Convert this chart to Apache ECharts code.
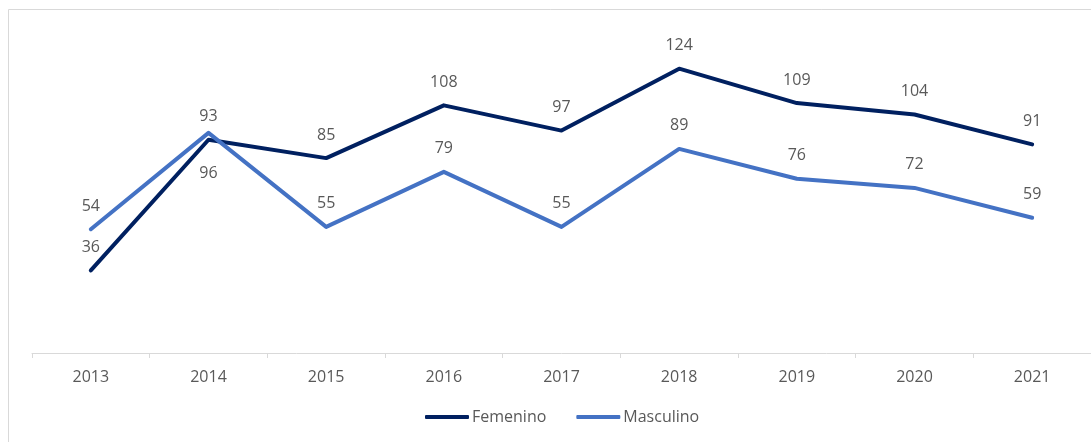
<!DOCTYPE html>
<html>
<head>
<meta charset="utf-8">
<script src="https://cdn.jsdelivr.net/npm/echarts@6/dist/echarts.min.js"></script>
<style>
  html, body { margin: 0; padding: 0; background: #fff; }
  #chart { width: 1091px; height: 442px; }
</style>
</head>
<body>
<div id="chart"></div>
<script>
// Chart data
const years = ['2013', '2014', '2015', '2016', '2017', '2018', '2019', '2020', '2021'];
const femenino = [36, 93, 85, 108, 97, 124, 109, 104, 91];
const masculino = [54, 96, 55, 79, 55, 89, 76, 72, 59];

const FONT = 'Open Sans';
const TEXT = '#595959';

// Masculino 2014 label sits under the line in the source
function mascData() {
  return masculino.map((v, i) => {
    if (i === 1) return { value: v, label: { position: 'bottom', distance: 33 } };
    return v;
  });
}

function labelStyle() {
  return {
    show: true,
    position: 'top',
    distance: 15,
    color: TEXT,
    fontSize: 16,
    fontFamily: FONT
  };
}

const chart = echarts.init(document.getElementById('chart'));
chart.setOption({
  animation: false,
  textStyle: { fontFamily: FONT },
  graphic: [{
    type: 'rect',
    shape: { x: 8.5, y: 9.5, width: 1200, height: 600 },
    style: { fill: 'none', stroke: '#d9d9d9', lineWidth: 1 },
    silent: true
  }],
  grid: { left: 32, right: 0, top: 32, bottom: 89 },
  legend: {
    bottom: 12,
    left: 420,
    itemWidth: 44,
    itemHeight: 4,
    itemGap: 30,
    icon: 'roundRect',
    textStyle: { color: TEXT, fontSize: 16, fontFamily: FONT, padding: [0, 0, 0, -2] },
    data: ['Femenino', 'Masculino']
  },
  xAxis: {
    type: 'category',
    data: years,
    boundaryGap: true,
    axisLine: { lineStyle: { color: '#d9d9d9', width: 1 } },
    axisTick: { show: true, length: 5, lineStyle: { color: '#d9d9d9' } },
    axisLabel: { color: TEXT, fontSize: 16, fontFamily: FONT, margin: 16 }
  },
  yAxis: {
    type: 'value',
    min: 0,
    max: 140,
    show: false,
    splitLine: { show: false }
  },
  series: [
    {
      name: 'Femenino',
      type: 'line',
      data: femenino,
      color: '#002060',
      lineStyle: { width: 4, color: '#002060', cap: 'round', join: 'round' },
      symbol: 'circle',
      symbolSize: 0.1,
      showSymbol: true,
      label: labelStyle(),
      z: 3
    },
    {
      name: 'Masculino',
      type: 'line',
      data: mascData(),
      color: '#4472C4',
      lineStyle: { width: 4, color: '#4472C4', cap: 'round', join: 'round' },
      symbol: 'circle',
      symbolSize: 0.1,
      showSymbol: true,
      label: labelStyle(),
      z: 4
    }
  ]
});
</script>
</body>
</html>
